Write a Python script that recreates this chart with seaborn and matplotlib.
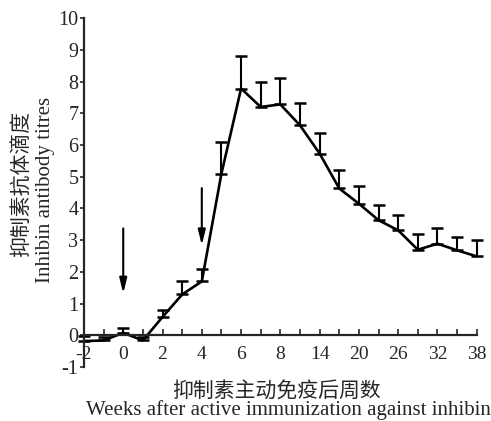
import numpy as np
import pandas as pd
import matplotlib
matplotlib.use("Agg")
import matplotlib.pyplot as plt
import seaborn as sns

# Data (weeks after immunization, titre, upper error)
weeks = [-2, -1, 0, 1, 2, 3, 4, 5, 6, 7, 8, 11, 14, 17, 20, 23, 26, 29, 32, 35, 38]
titre = [-0.18, -0.16, 0.08, -0.16, 0.58, 1.29, 1.70, 5.10, 7.78, 7.20, 7.28,
         6.62, 5.73, 4.63, 4.15, 3.63, 3.31, 2.70, 2.89, 2.68, 2.49]
err_up = [0.15, 0.10, 0.14, 0.10, 0.23, 0.41, 0.40, 1.00, 1.03, 0.79, 0.82,
          0.69, 0.66, 0.57, 0.55, 0.47, 0.49, 0.51, 0.49, 0.42, 0.51]
label_weeks = [-2, 0, 2, 4, 6, 8, 14, 20, 26, 32, 38]
y_ticks = [-1, 0, 1, 2, 3, 4, 5, 6, 7, 8, 9, 10]

# immunization arrows: (week, arrow top, arrow tip)
arrow_weeks = [0, 4]
arrow_top = [3.37, 4.64]
arrow_tip = [1.32, 2.84]

df = pd.DataFrame({"pos": np.arange(len(weeks)), "week": weeks,
                   "titre": titre, "err": err_up})

sns.set_style("ticks")
plt.rcParams["font.family"] = ["Liberation Serif", "Noto Sans CJK SC"]
plt.rcParams["axes.unicode_minus"] = False

fig = plt.figure(figsize=(4.91, 4.21), dpi=100)
ax = fig.add_axes([0.171, 0.128, 0.8, 0.829])

sns.lineplot(data=df, x="pos", y="titre", color="black", linewidth=1.9,
             ax=ax, clip_on=False)
ax.errorbar(df["pos"], df["titre"], yerr=[np.zeros(len(df)), df["err"]],
            fmt="none", ecolor="black", elinewidth=1.5, capsize=4,
            capthick=1.8, clip_on=False)

pos_of = {w: i for i, w in enumerate(weeks)}
for w, top, tip in zip(arrow_weeks, arrow_top, arrow_tip):
    ax.annotate("", xy=(pos_of[w], tip), xytext=(pos_of[w], top),
                arrowprops=dict(arrowstyle="-|>,head_length=0.9,head_width=0.22",
                                color="black", lw=1.5, shrinkA=0, shrinkB=0))

ax.set_xlim(0, len(weeks) - 1)
ax.set_ylim(-1, 10)

ax.spines["top"].set_visible(False)
ax.spines["right"].set_visible(False)
ax.spines["bottom"].set_position(("data", 0))
ax.spines["bottom"].set_linewidth(1.6)
ax.spines["left"].set_linewidth(1.6)

ax.set_xticks(df["pos"])
ax.set_xticklabels([str(w) if w in label_weeks else "" for w in weeks])
ax.tick_params(axis="x", direction="in", length=4, width=1.2, pad=8,
               labelsize=14)
ax.set_yticks(y_ticks)
ax.set_yticklabels([str(v) for v in y_ticks])
ax.tick_params(axis="y", direction="out", length=3, width=1.2, pad=1,
               labelsize=14.5)

ax.set_xlabel("")
ax.set_ylabel("")

fig.text(0.562, 0.073, "抑制素主动免疫后周数", ha="center", va="center",
         fontsize=15, family=["Noto Sans CJK SC", "DejaVu Sans"])
fig.text(0.587, 0.026, "Weeks after active immunization against inhibin",
         ha="center", va="center", fontsize=15)
fig.text(0.045, 0.563, "抑制素抗体滴度", ha="center", va="center",
         rotation=90, fontsize=15, family=["Noto Sans CJK SC", "DejaVu Sans"])
fig.text(0.092, 0.548, "Inhibin antibody titres", ha="center", va="center",
         rotation=90, fontsize=15)

fig.savefig("out.png", dpi=100)
